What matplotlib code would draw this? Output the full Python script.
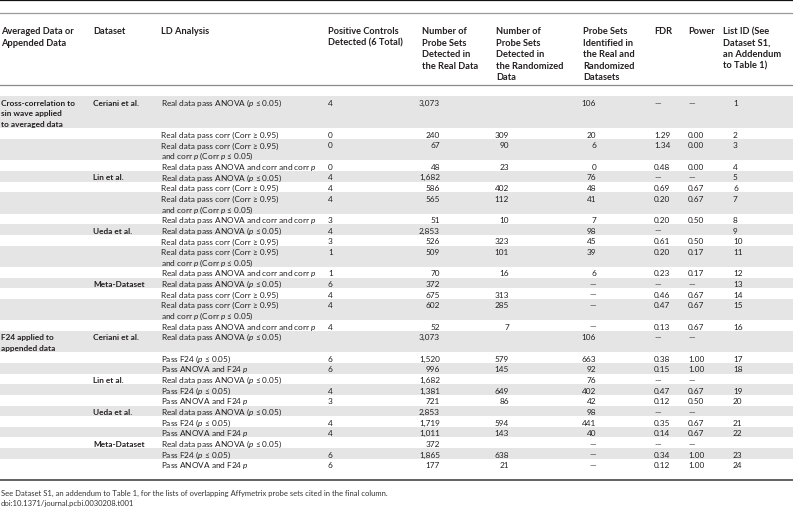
import matplotlib
matplotlib.use("Agg")
import matplotlib.pyplot as plt

plt.rcParams['font.family'] = ['Lato', 'DejaVu Sans']
plt.rcParams['mathtext.fontset'] = 'custom'
plt.rcParams['mathtext.rm'] = 'Lato'
plt.rcParams['mathtext.it'] = 'Lato:italic'
plt.rcParams['mathtext.bf'] = 'Lato:bold'

# --- table content ---
headers = [
    "Averaged Data or\nAppended Data",
    "Dataset",
    "LD Analysis",
    "Positive Controls\nDetected (6 Total)",
    "Number of\nProbe Sets\nDetected in\nthe Real Data",
    "Number of\nProbe Sets\nDetected in\nthe Randomized\nData",
    "Probe Sets\nIdentified in\nthe Real and\nRandomized\nDatasets",
    "FDR",
    "Power",
    "List ID (See\nDataset S1,\nan Addendum\nto Table 1)",
]

groups = {0: "Cross-correlation to\nsin wave applied\nto averaged data",
          16: "F24 applied to\nappended data"}
datasets = {0: "Ceriani et al.", 4: "Lin et al.", 8: "Ueda et al.", 12: "Meta-Dataset",
            16: "Ceriani et al.", 19: "Lin et al.", 22: "Ueda et al.", 25: "Meta-Dataset"}

ANOVA = "Real data pass ANOVA ($p$ ≤ 0.05)"
CORR = "Real data pass corr (Corr ≥ 0.95)"
CORRP = "Real data pass corr (Corr ≥ 0.95)\nand corr $p$ (Corr $p$ ≤ 0.05)"
BOTH = "Real data pass ANOVA and corr and corr $p$"
F24 = "Pass F24 ($p$ ≤ 0.05)"
F24B = "Pass ANOVA and F24 $p$"
analysis = [ANOVA, CORR, CORRP, BOTH] * 4 + [ANOVA, F24, F24B] * 4

controls = ["4", "0", "0", "0", "4", "4", "4", "3", "4", "3", "1", "1", "6", "4", "4", "4",
            "", "6", "6", "", "4", "3", "", "4", "4", "", "6", "6"]
real = ["3,073", "240", "67", "48", "1,682", "586", "565", "51", "2,853", "526", "509", "70",
        "372", "675", "602", "52", "3,073", "1,520", "996", "1,682", "1,381", "721",
        "2,853", "1,719", "1,011", "372", "1,865", "177"]
randomized = ["", "309", "90", "23", "", "402", "112", "10", "", "323", "101", "16",
              "", "313", "285", "7", "", "579", "145", "", "649", "86", "", "594", "143",
              "", "638", "21"]
both = ["106", "20", "6", "0", "76", "48", "41", "7", "98", "45", "39", "6",
        "—", "—", "—", "—", "106", "663", "92", "76", "402", "42", "98", "441", "40",
        "—", "—", "—"]
fdr = ["—", "1.29", "1.34", "0.48", "—", "0.69", "0.20", "0.20", "—", "0.61", "0.20", "0.23",
       "—", "0.46", "0.47", "0.13", "—", "0.38", "0.15", "—", "0.47", "0.12", "—", "0.35",
       "0.14", "—", "0.34", "0.12"]
power = ["—", "0.00", "0.00", "0.00", "—", "0.67", "0.67", "0.50", "", "0.50", "0.17", "0.17",
         "—", "0.67", "0.67", "0.67", "—", "1.00", "1.00", "—", "0.67", "0.50", "—", "0.67",
         "0.67", "—", "1.00", "1.00"]
list_id = [str(i) for i in range(1, 17)] + ["", "17", "18", "", "19", "20", "", "21", "22",
                                            "", "23", "24"]

footnote = ["See Dataset S1, an addendum to Table 1, for the lists of overlapping "
            "Affymetrix probe sets cited in the final column.",
            "doi:10.1371/journal.pcbi.0030208.t001"]

# --- layout (pixel coordinates) ---
W, H = 793, 510
header_x = [1, 93, 161, 328, 421.5, 496.5, 583, 654, 688.5, 723]
# (x, ha) for body columns
body_cols = [(328, "left"), (440, "right"), (509, "right"), (596, "right"),
             (654, "left"), (688, "left"), (733, "left")]
y_head, head_pitch = 30.7, 11.6
y_body, pitch = 102.7, 10.66
fs_head = 6.7
fs = 5.95
dy = 3.1        # baseline offset below the line centre
ink = "#231f20"
shade = "#e5e5e5"

fig = plt.figure(figsize=(W / 100, H / 100), dpi=100)
ax = fig.add_axes([0, 0, 1, 1])
ax.set_xlim(0, W)
ax.set_ylim(H, 0)
ax.axis("off")

# rules
ax.axhline(0.8, color="#111111", lw=1.6)
ax.axhline(13.5, color="#9a9a9a", lw=0.9)
ax.axhline(86, color="#8a8a8a", lw=0.9)
ax.axhline(480.7, color="#555555", lw=1.3)

for x, h in zip(header_x, headers):
    for k, ln in enumerate(h.split("\n")):
        ax.text(x, y_head + k * head_pitch + 3.4, ln, fontsize=fs_head, fontweight="bold",
                color=ink, ha="left", va="baseline")

line = 0
for i, a in enumerate(analysis):
    a_lines = a.split("\n")
    g_lines = groups[i].split("\n") if i in groups else []
    n = max(len(a_lines), len(g_lines), 1)
    top = y_body + line * pitch - pitch / 2
    if i % 2 == 0:
        ax.axhspan(top, top + n * pitch, color=shade, lw=0, zorder=0)
    y = y_body + line * pitch + dy
    for k, gl in enumerate(g_lines):
        ax.text(1, y + k * pitch, gl, fontsize=fs, fontweight="bold", color=ink,
                ha="left", va="baseline")
    if i in datasets:
        ax.text(93, y, datasets[i], fontsize=fs, fontweight="bold", color=ink,
                ha="left", va="baseline")
    for k, al in enumerate(a_lines):
        ax.text(161, y + k * pitch, al, fontsize=fs, color=ink, ha="left", va="baseline")
    vals = [controls[i], real[i], randomized[i], both[i], fdr[i], power[i], list_id[i]]
    for (x, ha), v in zip(body_cols, vals):
        if v:
            ax.text(x, y, v, fontsize=fs, color=ink, ha=ha, va="baseline")
    line += n

for k, t in enumerate(footnote):
    ax.text(1, 496 + k * 10.3, t, fontsize=5.5, color="#333333", ha="left", va="baseline")

fig.savefig("out.png", dpi=100)
